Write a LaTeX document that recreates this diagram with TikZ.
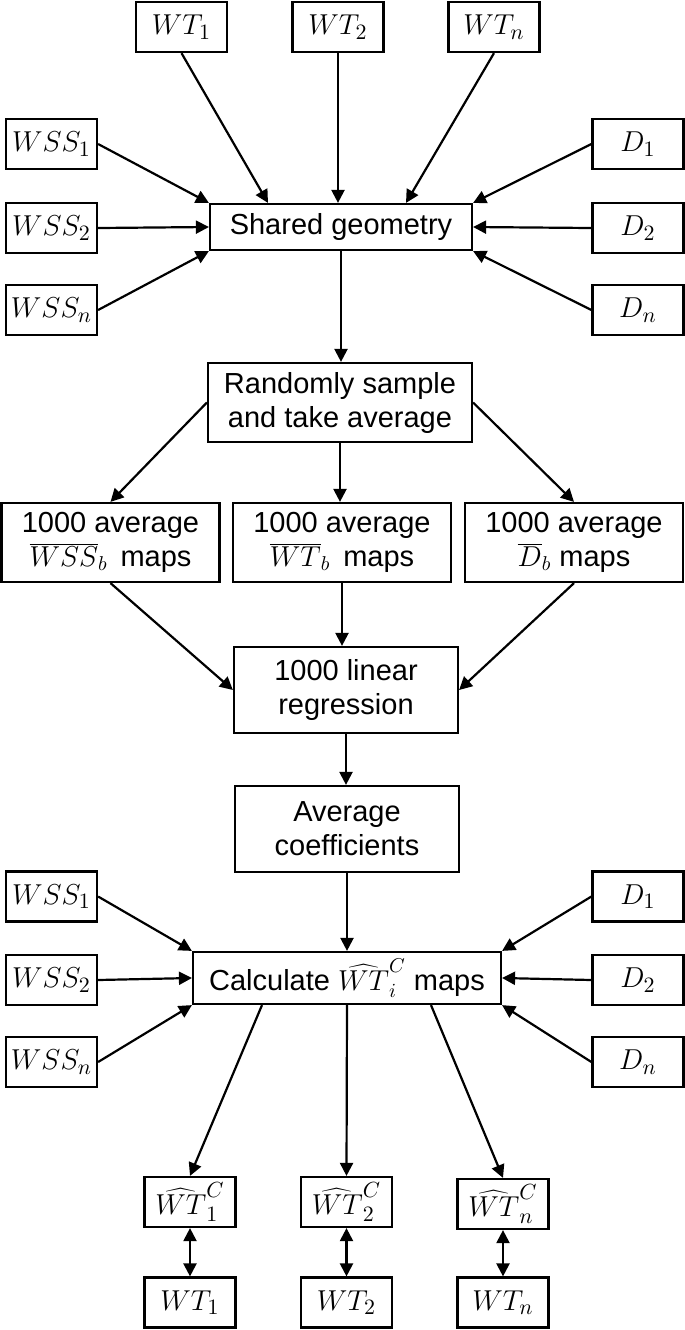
\documentclass[tikz,border=0pt]{standalone}
\usepackage[no-math]{fontspec}
\setmainfont{Liberation Sans}
\usetikzlibrary{arrows.meta}

\begin{document}
\begin{tikzpicture}[x=0.5pt,y=-0.5pt,
  box/.style={draw,line width=1.1pt,inner sep=0pt,align=center,
    font=\fontsize{14.5}{17}\selectfont},
  smallbox/.style={box,minimum width=45.5pt,minimum height=25pt,
    font=\fontsize{15.5}{17}\selectfont},
  midbox/.style={box,minimum width=109pt,minimum height=39.5pt},
  arr/.style={line width=1.1pt,-{Triangle[length=6.5pt,width=6.5pt]}},
  dblarr/.style={line width=1.1pt,{Triangle[length=6.5pt,width=6.5pt]}-{Triangle[length=6.5pt,width=6.5pt]}}]
  \useasboundingbox (0,0) rectangle (685,1330);

  \node[smallbox] (wtA) at (181.5,27) {$WT_1$};
  \node[smallbox] (wtB) at (338,27) {$WT_2$};
  \node[smallbox] (wtC) at (494,27) {$WT_n$};
  \node[smallbox] (wssA) at (51.5,144) {$WSS_1$};
  \node[smallbox] (wssB) at (51.5,228) {$WSS_2$};
  \node[smallbox] (wssC) at (51.5,310) {$WSS_n$};
  \node[smallbox] (dA) at (638,144) {$D_1$};
  \node[smallbox] (dB) at (638,228) {$D_2$};
  \node[smallbox] (dC) at (638,310) {$D_n$};
  \node[box,minimum width=131pt,minimum height=23pt] (shared) at (341,227) {Shared geometry};

  \node[box,minimum width=132pt,minimum height=39.5pt] (random) at (340,402.5) {Randomly sample\\and take average};
  \node[midbox] (wssbar) at (110.5,542.5) {1000 average\\$\overline{WSS}_b$\, maps};
  \node[midbox] (wtbar) at (342,542.5) {1000 average\\$\overline{WT}_b$\, maps};
  \node[midbox] (dbar) at (574,542.5) {1000 average\\$\overline{D}_b$ maps};
  \node[box,minimum width=112pt,minimum height=43pt] (linreg) at (346,690) {1000 linear\\regression};
  \node[box,minimum width=112pt,minimum height=43pt] (avgcoef) at (347,829) {Average\\coefficients};
  \node[box,minimum width=154pt,minimum height=26pt] (calc) at (347,978) {Calculate $\widehat{WT}_i^C$ maps};

  \node[smallbox] (wssD) at (51.5,896.5) {$WSS_1$};
  \node[smallbox] (wssE) at (51.5,980) {$WSS_2$};
  \node[smallbox] (wssF) at (51.5,1062) {$WSS_n$};
  \node[smallbox] (dD) at (638,896.5) {$D_1$};
  \node[smallbox] (dE) at (638,980) {$D_2$};
  \node[smallbox] (dF) at (638,1062) {$D_n$};

  \node[smallbox] (hatA) at (190,1202) {$\widehat{WT}_1^C$};
  \node[smallbox] (hatB) at (346.5,1202) {$\widehat{WT}_2^C$};
  \node[smallbox] (hatC) at (503,1204) {$\widehat{WT}_n^C$};
  \node[smallbox] (wtD) at (190,1302.5) {$WT_1$};
  \node[smallbox] (wtE) at (346.5,1302.5) {$WT_2$};
  \node[smallbox] (wtF) at (503,1302.5) {$WT_n$};

  \draw[arr] (wtA.south) -- ([xshift=-36.5pt]shared.north);
  \draw[arr] (wtB.south) -- (wtB.south |- shared.north);
  \draw[arr] (wtC.south) -- ([xshift=32.5pt]shared.north);
  \draw[arr] (wssA.east) -- (shared.north west);
  \draw[arr] (wssB.east) -- (shared.west);
  \draw[arr] (wssC.east) -- (shared.south west);
  \draw[arr] (dA.west) -- (shared.north east);
  \draw[arr] (dB.west) -- (shared.east);
  \draw[arr] (dC.west) -- (shared.south east);
  \draw[arr] (shared.south) -- (shared.south |- random.north);

  \draw[arr] (random.west) -- (wssbar.north);
  \draw[arr] (random.south) -- (random.south |- wtbar.north);
  \draw[arr] (random.east) -- (dbar.north);
  \draw[arr] (wssbar.south) -- (linreg.west);
  \draw[arr] (wtbar.south) -- (wtbar.south |- linreg.north);
  \draw[arr] (dbar.south) -- (linreg.east);
  \draw[arr] (linreg.south) -- (linreg.south |- avgcoef.north);
  \draw[arr] (avgcoef.south) -- (avgcoef.south |- calc.north);

  \draw[arr] (wssD.east) -- (calc.north west);
  \draw[arr] (wssE.east) -- (calc.west);
  \draw[arr] (wssF.east) -- (calc.south west);
  \draw[arr] (dD.west) -- (calc.north east);
  \draw[arr] (dE.west) -- (calc.east);
  \draw[arr] (dF.west) -- (calc.south east);

  \draw[arr] ([xshift=-42.5pt]calc.south) -- (hatA.north);
  \draw[arr] (calc.south) -- (hatB.north);
  \draw[arr] ([xshift=42pt]calc.south) -- (hatC.north);
  \draw[dblarr] (hatA) -- (wtD);
  \draw[dblarr] (hatB) -- (wtE);
  \draw[dblarr] (hatC) -- (wtF);
\end{tikzpicture}
\end{document}
